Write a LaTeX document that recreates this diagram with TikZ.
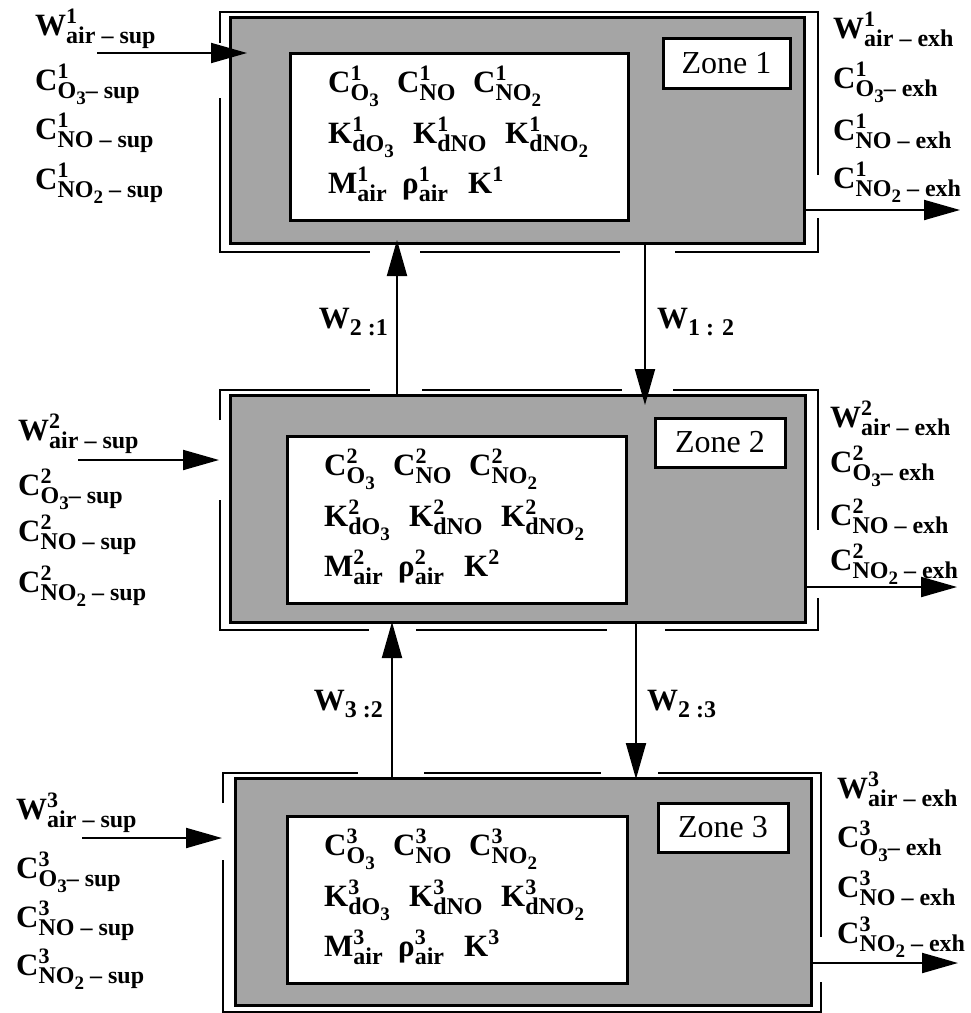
\documentclass[tikz,border=0pt]{standalone}
\usepackage{fontspec}
\setmainfont{Liberation Serif}
\usetikzlibrary{arrows.meta}
\definecolor{shade}{RGB}{165,165,165}
\newcommand\supsz{\fontsize{22}{22}\selectfont}
\newcommand\subsz{\fontsize{24}{24}\selectfont}
\newcommand\lowsz{\fontsize{19}{19}\selectfont}
\newcommand\Vx[3]{#1\rlap{\raisebox{12pt}{\supsz #2}}\raisebox{-8pt}{\subsz #3}}
\newcommand\Vs[2]{#1\raisebox{12pt}{\supsz #2}}
\newcommand\Lo[1]{\raisebox{-6pt}{\lowsz #1}}
\newcommand\Wsub[2]{#1\raisebox{-7pt}{\subsz #2}}
\tikzset{
  zonebox/.style={draw, line width=3pt, fill=shade, inner sep=0pt, outer sep=0pt},
  innerbox/.style={draw, line width=3pt, fill=white, inner sep=0pt, outer sep=0pt},
  labelbox/.style={draw, line width=3pt, fill=white, inner sep=0pt, outer sep=0pt, font=\fontsize{32}{32}\selectfont},
  wall/.style={line width=2.6pt},
  arr/.style={line width=2pt, -{Triangle[length=36pt,width=20pt]}},
  txt/.style={inner sep=0pt, anchor=base west, font=\bfseries\fontsize{31}{31}\selectfont},
  txte/.style={txt, anchor=base east},
}
\newcommand\zonevars[4]{%
  \node[txt] (#2a) at (#3,#4) {\Vx{C}{#1}{O\Lo{3}}};
  \node[txt] (#2b) at ({#3+69},#4) {\Vx{C}{#1}{NO}};
  \node[txt] (#2c) at ({#3+145},#4) {\Vx{C}{#1}{NO\Lo{2}}};
  \node[txt] (#2d) at (#3,{#4+51}) {\Vx{K}{#1}{dO\Lo{3}}};
  \node[txt] (#2e) at ({#3+85},{#4+51}) {\Vx{K}{#1}{dNO}};
  \node[txt] (#2f) at ({#3+177},{#4+51}) {\Vx{K}{#1}{dNO\Lo{2}}};
  \node[txt] (#2g) at (#3,{#4+101}) {\Vx{M}{#1}{air}};
  \node[txt] (#2h) at ({#3+74},{#4+101}) {\Vx{ρ}{#1}{air}};
  \node[txt] (#2i) at ({#3+140},{#4+101}) {\Vs{K}{#1}};
}
\newcommand\suptexts[7]{%
  \node[txt] (#2a) at (#3,#4) {\Vx{W}{#1}{air – sup}};
  \node[txt] (#2b) at (#3,#5) {\Vx{C}{#1}{O\Lo{3}– sup}};
  \node[txt] (#2c) at (#3,#6) {\Vx{C}{#1}{NO – sup}};
  \node[txt] (#2d) at (#3,#7) {\Vx{C}{#1}{NO\Lo{2} – sup}};
}
\newcommand\exhtexts[7]{%
  \node[txt] (#2a) at (#3,#4) {\Vx{W}{#1}{air – exh}};
  \node[txt] (#2b) at (#3,#5) {\Vx{C}{#1}{O\Lo{3}– exh}};
  \node[txt] (#2c) at (#3,#6) {\Vx{C}{#1}{NO – exh}};
  \node[txt] (#2d) at (#3,#7) {\Vx{C}{#1}{NO\Lo{2} – exh}};
}
\begin{document}
\begin{tikzpicture}[x=1pt,y=-1pt]
\fill[white] (0,0) rectangle (971,1013);
\useasboundingbox (0,0) rectangle (971,1013);

% zone boxes
\node[zonebox, minimum width=574pt, minimum height=226pt] (z1) at (517,130) {};
\node[zonebox, minimum width=575pt, minimum height=227pt] (z2) at (517.5,508.5) {};
\node[zonebox, minimum width=576pt, minimum height=227pt] (z3) at (523,891.5) {};

% inner boxes
\node[innerbox, minimum width=338pt, minimum height=167pt] (i1) at (459,136.5) {};
\node[innerbox, minimum width=339pt, minimum height=167pt] (i2) at (456.5,519.5) {};
\node[innerbox, minimum width=340pt, minimum height=167pt] (i3) at (457,899.5) {};

% zone labels
\node[labelbox, minimum width=127pt, minimum height=50pt] (lab1) at (726.5,63) {Zone 1};
\node[labelbox, minimum width=130pt, minimum height=49pt] (lab2) at (720,442.5) {Zone 2};
\node[labelbox, minimum width=130pt, minimum height=49pt] (lab3) at (723,827.5) {Zone 3};

% walls
\draw[wall] (220,43) -- (220,12) -- (818,12) -- (818,175);
\draw[wall] (220,98) -- (220,252) -- (370,252);
\draw[wall] (420,252) -- (620,252);
\draw[wall] (675,252) -- (818,252) -- (818,218);

\draw[wall] (220,420) -- (220,390) -- (370,390);
\draw[wall] (422,390) -- (622,390);
\draw[wall] (673,390) -- (818,390) -- (818,530);
\draw[wall] (220,500) -- (220,630) -- (369,630);
\draw[wall] (416,630) -- (607,630);
\draw[wall] (665,630) -- (818,630) -- (818,598);

\draw[wall] (223,803) -- (223,773) -- (358,773);
\draw[wall] (424,773) -- (601,773);
\draw[wall] (658,773) -- (821,773) -- (821,937);
\draw[wall] (223,860) -- (223,1012) -- (821,1012) -- (821,982);

% variables
\zonevars{1}{va}{328}{92}
\zonevars{2}{vb}{324}{475}
\zonevars{3}{vc}{324}{855}

\suptexts{1}{sa}{35}{35}{90}{139}{189}
\suptexts{2}{sb}{18}{440}{495}{541}{592}
\suptexts{3}{sc}{16}{819}{878}{927}{975}

\exhtexts{1}{ea}{833}{38}{88}{140}{188}
\exhtexts{2}{eb}{830}{427}{472}{525}{570}
\exhtexts{3}{ec}{837}{798}{847}{897}{943}

% supply arrows
\coordinate (in1) at (97,53);   \coordinate (in1t) at (247,53);
\coordinate (in2) at (78,460);  \coordinate (in2t) at (219,460);
\coordinate (in3) at (82,838);  \coordinate (in3t) at (222,838);
\draw[arr] (in1) -- (in1t);
\draw[arr] (in2) -- (in2t);
\draw[arr] (in3) -- (in3t);

% exhaust arrows
\coordinate (out1) at (960,210);
\coordinate (out2) at (957,587);
\coordinate (out3) at (958,963);
\draw[arr] (z1.east |- out1) -- (out1);
\draw[arr] (z2.east |- out2) -- (out2);
\draw[arr] (z3.east |- out3) -- (out3);

% inter-zone flows
\coordinate (t21) at (397,240);
\coordinate (t12) at (645,405);
\coordinate (t32) at (392,622);
\coordinate (t23) at (636,779);
\draw[arr] (z2.north -| t21) -- (t21);
\draw[arr] (z1.south -| t12) -- (t12);
\draw[arr] (z3.north -| t32) -- (t32);
\draw[arr] (z2.south -| t23) -- (t23);

\node[txte] (w21) at (388,328) {\Wsub{W}{2 :1}};
\node[txt]  (w12) at (657,328) {\Wsub{W}{1 : 2}};
\node[txte] (w32) at (383,710) {\Wsub{W}{3 :2}};
\node[txt]  (w23) at (647,710) {\Wsub{W}{2 :3}};
\end{tikzpicture}
\end{document}
